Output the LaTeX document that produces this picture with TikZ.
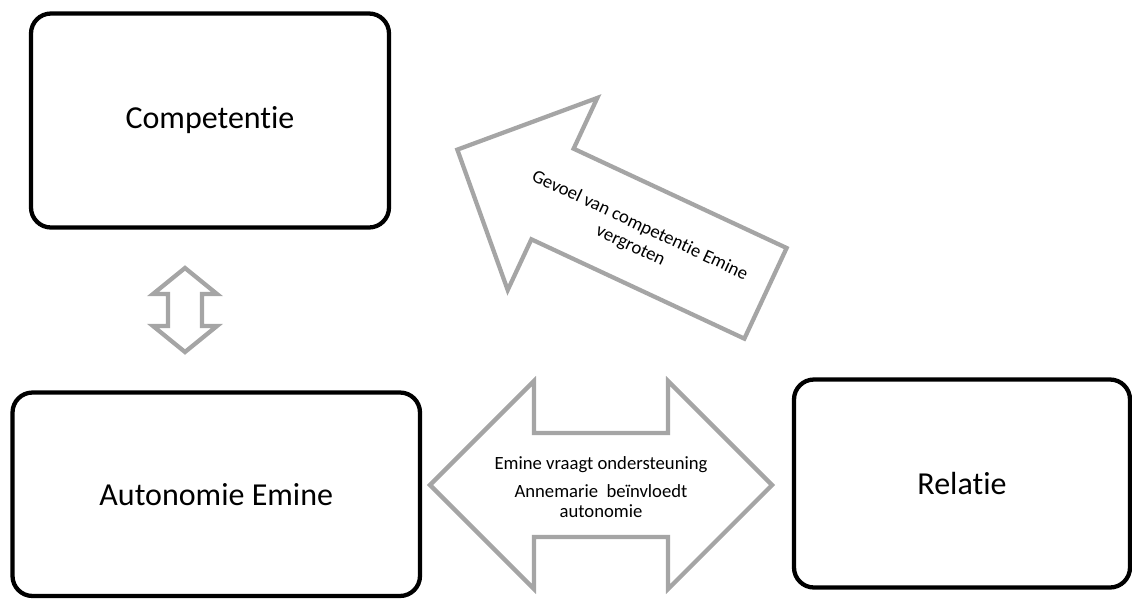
\documentclass[tikz,border=0pt]{standalone}
\usepackage{fontspec}
\setmainfont{Carlito}[Ligatures=NoCommon]
\usepackage{xcolor}
\definecolor{arrowGray}{HTML}{A5A5A5}
\definecolor{darkText}{HTML}{000000}
\usepackage{tikz}
\usetikzlibrary{positioning}
\tikzset{
    % Base style for the three need boxes
    need box/.style={
        rectangle,
        rounded corners=15pt,
        draw=black,
        line width=3.2pt,
        fill=white,
        text=darkText,
        font=\fontsize{24}{29}\selectfont,
        align=center,
    },
    % Hollow block arrows - gray outline
    block arrow/.style={
        draw=arrowGray,
        line width=3.2pt,
        fill=white,
        line join=miter,
    },
    % Text inside the block arrows
    arrow text/.style={
        font=\fontsize{14}{15}\selectfont,
        text=darkText,
        align=center,
        inner sep=0pt,
    },
}

\begin{document}
\begin{tikzpicture}[x=0.75pt, y=-0.75pt]
    \useasboundingbox (0,0) rectangle (1132,601);

    \node (comp) [need box, minimum width=268.5pt, minimum height=160.5pt] at (210,120.5) {Competentie};
    \node (auto) [need box, minimum width=305.6pt, minimum height=152.6pt] at (216.25,494.25) {Autonomie Emine};
    \node (rel) [need box, minimum width=252pt, minimum height=156pt] at (962,483.5) {Relatie};

    % small double arrow between competentie and autonomie
    \begin{scope}[shift={(185,310)}]
        \draw [block arrow] (0,-42) -- (32,-16) -- (17,-16) -- (17,16) -- (32,16) -- (0,42)
            -- (-32,16) -- (-17,16) -- (-17,-16) -- (-32,-16) -- cycle;
    \end{scope}

    % double arrow between autonomie and relatie
    \begin{scope}[shift={(601,485)}]
        \draw [block arrow] (-171,0) -- (-67,-104) -- (-67,-52) -- (67,-52) -- (67,-104) -- (171,0)
            -- (67,104) -- (67,52) -- (-67,52) -- (-67,104) -- cycle;
        \node (support) [arrow text] at (0,2) {Emine vraagt ondersteuning\\[6pt]Annemarie~ beïnvloedt\\autonomie};
    \end{scope}

    % tilted arrow pointing to competentie
    \begin{scope}[shift={(552.5,194)}, rotate=-25]
        \draw [block arrow] (-105,0) -- (0,-106) -- (0,-50) -- (235,-50) -- (235,50) -- (0,50)
            -- (0,106) -- cycle;
        \node (feeling) [arrow text, rotate=-25, font=\fontsize{14}{16.5}\selectfont] at (92.5,3) {Gevoel van competentie Emine\\vergroten};
    \end{scope}
\end{tikzpicture}
\end{document}
